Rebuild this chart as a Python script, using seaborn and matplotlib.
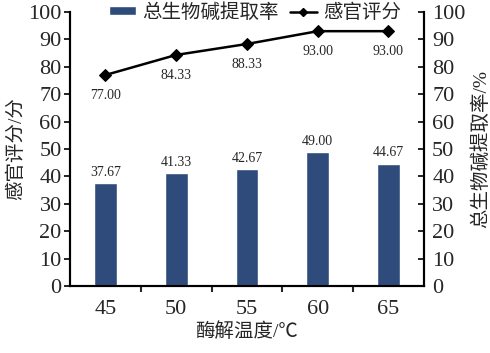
import pandas as pd
import matplotlib.pyplot as plt
import seaborn as sns
from matplotlib.lines import Line2D
from matplotlib.patches import Patch

temps = ["45", "50", "55", "60", "65"]
extraction = [37.67, 41.33, 42.67, 49.00, 44.67]
score = [77.00, 84.33, 88.33, 93.00, 93.00]

sns.set_theme(style="ticks")
plt.rcParams["font.family"] = ["Liberation Serif", "Noto Sans CJK SC"]

df = pd.DataFrame({"temp": temps, "extraction": extraction, "score": score})

fig = plt.figure(figsize=(4.9, 3.53), dpi=100)
ax = fig.add_axes([0.143, 0.19, 0.722, 0.776])
ax2 = ax.twinx()

bar_color = "#2f4b7c"
sns.barplot(data=df, x="temp", y="extraction", ax=ax2, color=bar_color, width=0.32, saturation=1)
sns.lineplot(x=range(len(temps)), y=score, ax=ax, color="black", marker="D",
             markersize=6, linewidth=1.8, markeredgecolor="black")

for a in (ax, ax2):
    a.set_ylim(0, 100)
    a.set_xlim(-0.5, 4.5)
    a.set_yticks(range(0, 101, 10))
    a.tick_params(labelsize=16, length=4, width=1.2, color="black", pad=2)
    for s in a.spines.values():
        s.set_linewidth(1.5)
        s.set_color("black")
    a.spines["top"].set_visible(False)
ax2.tick_params(axis="y", direction="in", pad=6)

ax.set_xticks(range(len(temps)))
ax.set_xticklabels(temps)
ax.set_xticks([0.5, 1.5, 2.5, 3.5], minor=True)
ax.tick_params(axis="x", which="major", length=0, pad=10)
ax.tick_params(axis="x", which="minor", length=4, width=1.5)
ax2.tick_params(axis="x", length=0)

ax.set_xlabel("酶解温度/℃", fontsize=14, labelpad=2)
ax.set_ylabel("感官评分/分", fontsize=14, labelpad=2)
ax2.set_ylabel("总生物碱提取率/%", fontsize=14, labelpad=4)

for i, v in enumerate(extraction):
    ax2.text(i, v + 1.5, f"{v:.2f}", ha="center", va="bottom", fontsize=10)
for i, v in enumerate(score):
    ax.text(i, v - 5, f"{v:.2f}", ha="center", va="top", fontsize=10)

handles = [Patch(facecolor=bar_color),
           Line2D([0], [0], color="black", marker="D", markersize=4, linewidth=1.8)]
fig.legend(handles, ["总生物碱提取率", "感官评分"], loc="center", ncol=2,
           bbox_to_anchor=(0.52, 0.965), frameon=False, fontsize=14,
           handlelength=1.4, handleheight=0.35, columnspacing=0.6, handletextpad=0.3,
           borderpad=0)

fig.savefig("out.png", dpi=100)
